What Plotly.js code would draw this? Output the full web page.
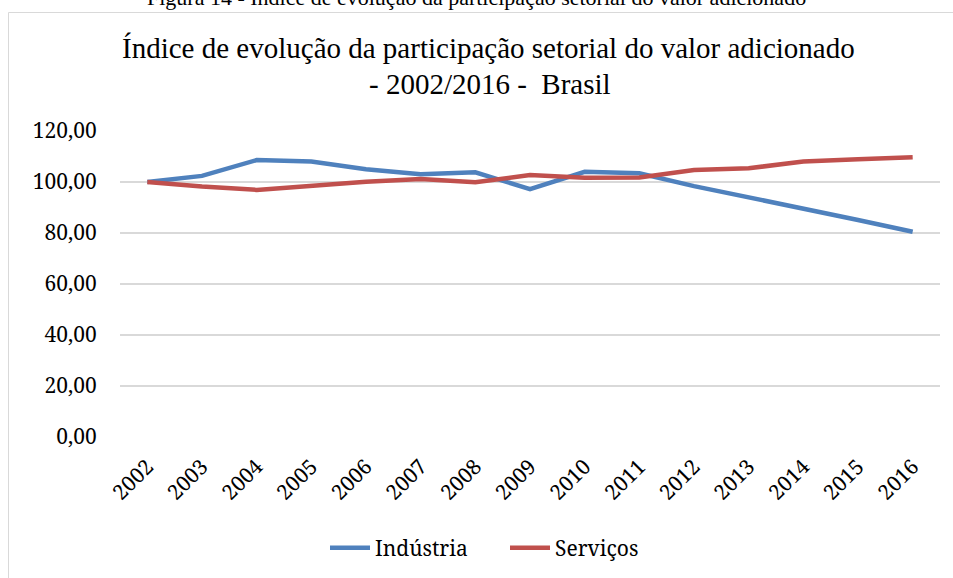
<!DOCTYPE html>
<html>
<head>
<meta charset="utf-8">
<script src="https://cdn.plot.ly/plotly-3.0.1.min.js"></script>
<style>
html,body{margin:0;padding:0;background:#fff;overflow:hidden;}
#chart{width:953px;height:578px;}
</style>
</head>
<body>
<div id="chart"></div>
<script>
const years = ["2002","2003","2004","2005","2006","2007","2008","2009","2010","2011","2012","2013","2014","2015","2016"];
const industria = [100.0, 102.4, 108.6, 108.0, 105.0, 103.0, 103.8, 97.2, 104.0, 103.4, 98.4, 94.0, 89.9, 85.1, 80.5];
const servicos  = [100.0, 98.2, 96.9, 98.6, 100.1, 101.2, 99.9, 102.7, 101.7, 101.8, 104.7, 105.4, 108.0, 108.9, 109.7];
const yTicks = [0, 20, 40, 60, 80, 100, 120];
const titleLine1 = "Índice de evolução da participação setorial do valor adicionado";
const titleLine2 = "- 2002/2016 -  Brasil";
const caption = "Figura 14 - Índice de evolução da participação setorial do valor adicionado";

const L = 120, R = 940, T = 131, B = 437, W = 953, H = 578;
const px = x => (x - L) / (R - L);
const py = y => (B - y) / (B - T);
const serif = "Liberation Serif";
const tickFam = "Noto Serif";

const traces = [
  {x: years, y: industria, name: "Indústria", type: "scatter", mode: "lines",
   line: {color: "#4F81BD", width: 4.5}},
  {x: years, y: servicos, name: "Serviços", type: "scatter", mode: "lines",
   line: {color: "#C0504D", width: 4.5}}
];

const layout = {
  width: W, height: H,
  margin: {l: L, r: W - R, t: T, b: H - B, pad: 0},
  paper_bgcolor: "#ffffff", plot_bgcolor: "#ffffff",
  separators: ",.",
  showlegend: true,
  legend: {orientation: "h", x: 325 / W, xref: "container", xanchor: "left",
           y: (H - 548) / H, yref: "container", yanchor: "middle",
           font: {family: tickFam, size: 21, color: "#000"},
           entrywidth: 125, entrywidthmode: "pixels",
           itemwidth: 40, tracegroupgap: 0},
  xaxis: {
    type: "category", range: [-0.5, 14.5],
    showgrid: false, zeroline: false, showline: false,
    tickangle: -45, ticks: "outside", ticklen: 8, tickcolor: "rgba(0,0,0,0)",
    tickfont: {family: tickFam, size: 21, color: "#000"},
    fixedrange: true
  },
  yaxis: {
    range: [0, 120], tickvals: yTicks, tickformat: ".2f",
    showgrid: true, gridcolor: "#d9d9d9", gridwidth: 1.5,
    zeroline: false, showline: false,
    ticks: "outside", ticklen: 18, tickcolor: "rgba(0,0,0,0)",
    tickfont: {family: tickFam, size: 21, color: "#000"},
    fixedrange: true
  },
  shapes: [
    {type: "rect", xref: "paper", yref: "paper",
     x0: px(8.5), x1: px(W + 20), y0: py(H + 20), y1: py(12.5),
     line: {color: "#d9d9d9", width: 1}, fillcolor: "rgba(0,0,0,0)", layer: "below"}
  ],
  annotations: [
    {text: caption,
     xref: "paper", yref: "paper", x: px(476), y: py(-3), xanchor: "center", yanchor: "middle",
     showarrow: false, font: {family: serif, size: 22, color: "#000"}},
    {text: titleLine1,
     xref: "paper", yref: "paper", x: px(488), y: py(48), xanchor: "center", yanchor: "middle",
     showarrow: false, font: {family: serif, size: 29, color: "#000"}},
    {text: titleLine2,
     xref: "paper", yref: "paper", x: px(490), y: py(84), xanchor: "center", yanchor: "middle",
     showarrow: false, font: {family: serif, size: 29, color: "#000"}}
  ]
};

Plotly.newPlot("chart", traces, layout, {displayModeBar: false, staticPlot: true});
</script>
</body>
</html>
